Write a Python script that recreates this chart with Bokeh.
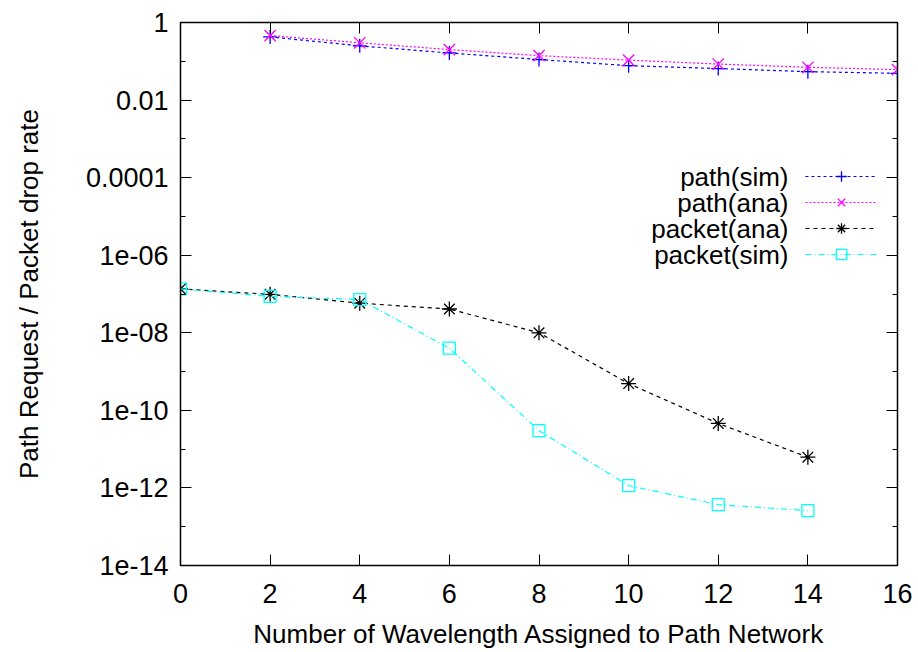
from bokeh.plotting import figure
from bokeh.models import (Range1d, FixedTicker, LogAxis, LinearAxis, Legend,
                          LegendItem, Label, CustomJSTickFormatter)
from bokeh.embed import file_html
from bokeh.resources import INLINE

# ---- data ----
x_path = [2, 4, 6, 8, 10, 12, 14, 16]
path_sim = [0.425, 0.25, 0.164, 0.111, 0.077, 0.065, 0.054, 0.049]
path_ana = [0.46, 0.30, 0.20, 0.14, 0.107, 0.085, 0.070, 0.061]
x_packet = [0, 2, 4, 6, 8, 10, 12, 14]
packet_ana = [1.35e-7, 9.8e-8, 5.8e-8, 4.1e-8, 1.0e-8, 4.9e-10, 4.6e-11, 6.2e-12]
packet_sim = [1.35e-7, 8.7e-8, 7.2e-8, 4.0e-9, 3.0e-11, 1.15e-12, 3.7e-13, 2.6e-13]

series_names = ["path(sim)", "path(ana)", "packet(ana)", "packet(sim)"]
x_ticks = [0, 2, 4, 6, 8, 10, 12, 14, 16]
y_tick_exps = [0, -2, -4, -6, -8, -10, -12, -14]
y_tick_labels = ["1", "0.01", "0.0001", "1e-06", "1e-08", "1e-10", "1e-12", "1e-14"]
y_minor_exps = [-1, -3, -5, -7, -9, -11, -13]
x_title = "Number of Wavelength Assigned to Path Network"
y_title = "Path Request / Packet drop rate"

FONT = "Liberation Sans"
FS = "27px"
FS_T = "26px"

p = figure(width=918, height=652, output_backend="svg", toolbar_location=None,
           y_axis_type="log", x_range=Range1d(0, 16), y_range=Range1d(1e-14, 1),
           min_border_left=180, min_border_right=21, min_border_top=22,
           min_border_bottom=87)
p.xgrid.visible = False
p.ygrid.visible = False
p.outline_line_color = "black"
p.outline_line_width = 1.5
p.background_fill_color = "white"
p.border_fill_color = "white"

y_major = [10.0 ** e for e in y_tick_exps]
y_minor = [10.0 ** e for e in y_minor_exps]
yfmt = CustomJSTickFormatter(args=dict(exps=y_tick_exps, labels=y_tick_labels), code="""
const e = Math.round(Math.log10(tick));
const i = exps.indexOf(e);
return i >= 0 ? labels[i] : '';
""")

def style_axis(ax, major_in, minor_in):
    ax.axis_line_color = "black"
    ax.major_tick_line_color = "black"
    ax.minor_tick_line_color = "black"
    ax.major_tick_in = major_in
    ax.major_tick_out = 0
    ax.minor_tick_in = minor_in
    ax.minor_tick_out = 0
    ax.major_label_text_font = FONT
    ax.major_label_text_font_size = FS
    ax.major_label_text_color = "black"
    ax.axis_label_text_font = FONT
    ax.axis_label_text_font_size = FS_T
    ax.axis_label_text_font_style = "normal"
    ax.axis_label_text_color = "black"

# left axis
ya = p.yaxis[0]
ya.ticker = FixedTicker(ticks=y_major, minor_ticks=y_minor)
ya.formatter = yfmt
ya.axis_label = y_title
style_axis(ya, 11, 5)
ya.major_label_standoff = 12
ya.axis_label_standoff = 39

# bottom axis
xa = p.xaxis[0]
xa.ticker = FixedTicker(ticks=x_ticks)
xa.axis_label = x_title
style_axis(xa, 11, 0)
xa.major_label_standoff = 18
xa.axis_label_standoff = 13

# mirror axes
blank = CustomJSTickFormatter(code="return '';")
top = LinearAxis(ticker=FixedTicker(ticks=x_ticks), formatter=blank)
style_axis(top, 11, 0)
top.major_label_text_font_size = "0px"
top.major_label_standoff = 0
p.add_layout(top, "above")
right = LogAxis(ticker=FixedTicker(ticks=y_major, minor_ticks=y_minor), formatter=blank)
style_axis(right, 11, 5)
right.major_label_text_font_size = "0px"
right.major_label_standoff = 0
p.add_layout(right, "right")

# series
colors = ["#0000ff", "#ff00ff", "#000000", "#00ffff"]
dashes = ["3 3", "2 2", "4 4", "6 3 1 3"]
markers = ["cross", "x", "asterisk", "square"]
sizes = [14, 16, 15, 12]
xs = [x_path, x_path, x_packet, x_packet]
ys = [path_sim, path_ana, packet_ana, packet_sim]

items = []
for i in range(4):
    lr = p.line(xs[i], ys[i], line_color=colors[i], line_dash=dashes[i], line_width=1.2)
    sr = p.scatter(xs[i], ys[i], marker=markers[i], size=sizes[i], line_color=colors[i],
                   fill_alpha=0, line_width=1.3)
    items.append(LegendItem(label=" ", renderers=[lr, sr]))

legend = Legend(items=items, location=(625, 298), glyph_width=72, glyph_height=26,
                label_width=0, label_standoff=0, label_text_font_size="1px",
                label_height=26, spacing=0, padding=0, margin=0,
                border_line_alpha=0, background_fill_alpha=0)
p.add_layout(legend, "center")

row_y = [389, 363, 337, 311]
for i, name in enumerate(series_names):
    p.add_layout(Label(x=608, y=row_y[i], x_units="screen", y_units="screen", text=name,
                       text_align="right", text_baseline="middle", text_font=FONT,
                       text_font_size=FS_T, text_color="black"))

open("out.html", "w").write(file_html(p, INLINE))
